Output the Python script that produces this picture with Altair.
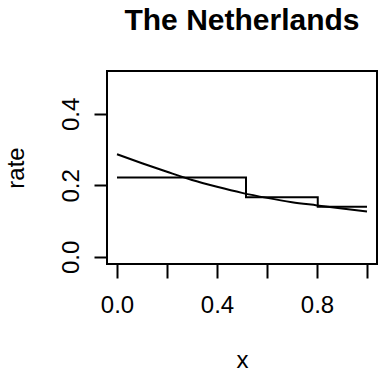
import altair as alt
import pandas as pd

# Step function (piecewise-constant rate)
step_x = [0.0, 0.516, 0.803, 1.0]
step_y = [0.222, 0.167, 0.140, 0.140]

# Smooth fitted rate curve
curve_x = [0.0, 0.1, 0.2, 0.3, 0.4, 0.5, 0.6, 0.7, 0.8, 0.9, 1.0]
curve_y = [0.287, 0.262, 0.238, 0.215, 0.196, 0.179, 0.165, 0.153, 0.144, 0.135, 0.127]

x_ticks = [0.0, 0.2, 0.4, 0.6, 0.8, 1.0]
y_ticks = [0.0, 0.1, 0.2, 0.3, 0.4, 0.5]

title_text = ["The Netherlands"]

step_df = pd.DataFrame({"x": step_x, "rate": step_y})
curve_df = pd.DataFrame({"x": curve_x, "rate": curve_y})
title_df = pd.DataFrame({"t": title_text})

FONT = "Liberation Sans"

xscale = alt.Scale(domain=[-0.04, 1.04], nice=False, zero=False)
yscale = alt.Scale(domain=[-0.02, 0.52], nice=False, zero=False)

xaxis = alt.Axis(
    values=x_ticks, title="x", grid=False, domain=False,
    tickSize=14, tickWidth=2, tickColor="black",
    labelExpr="(abs(datum.value*10 % 4) < 0.01) ? format(datum.value, '.1f') : ''",
    labelFont=FONT, labelFontSize=24, labelColor="black",
    labelBaseline="top", labelPadding=15, labelFlush=False, labelOverlap=False,
    titleFont=FONT, titleFontSize=24, titleFontWeight="normal", titleColor="black",
    titleBaseline="alphabetic", titleY=103,
)
yaxis = alt.Axis(
    values=y_ticks, title="rate", grid=False, domain=False,
    tickSize=13, tickWidth=2, tickColor="black",
    labelExpr="(abs(datum.value*10 % 2) < 0.01) ? format(datum.value, '.1f') : ''",
    labelFont=FONT, labelFontSize=24, labelColor="black",
    labelAngle=270, labelAlign="center", labelBaseline="alphabetic",
    labelPadding=16, labelFlush=False, labelOverlap=False,
    titleFont=FONT, titleFontSize=24, titleFontWeight="normal", titleColor="black",
    titleAngle=270, titleBaseline="alphabetic", titleX=-84,
)

step = alt.Chart(step_df).mark_line(
    interpolate="step-after", color="black", strokeWidth=2
).encode(
    x=alt.X("x:Q", scale=xscale, axis=xaxis),
    y=alt.Y("rate:Q", scale=yscale, axis=yaxis),
)

curve = alt.Chart(curve_df).mark_line(
    interpolate="monotone", color="black", strokeWidth=2
).encode(
    x=alt.X("x:Q", scale=xscale),
    y=alt.Y("rate:Q", scale=yscale),
)

title = alt.Chart(title_df).mark_text(
    font=FONT, fontSize=30, fontWeight="bold", color="black",
    align="center", baseline="alphabetic",
).encode(
    text="t:N",
    x=alt.value(135),
    y=alt.value(-41),
)

chart = alt.layer(step, curve, title).properties(
    width=270, height=193,
    padding={"left": 107, "top": 71, "right": 5, "bottom": 108},
    autosize=alt.AutoSizeParams(type="none"),
    background="white",
).configure_view(stroke="black", strokeWidth=2)

chart.save("out.html", embed_options={"renderer": "svg", "actions": False})
